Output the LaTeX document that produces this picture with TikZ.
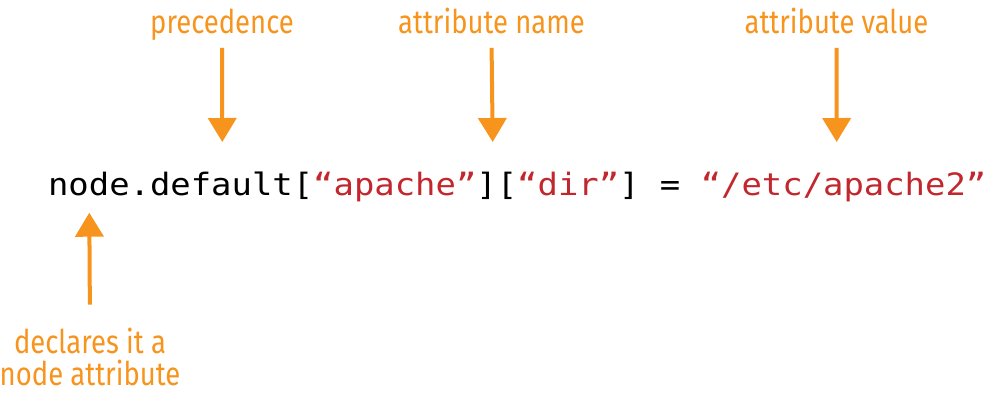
\documentclass[tikz,border=0pt]{standalone}
\usepackage{fontspec}
\usetikzlibrary{arrows.meta}
\newfontfamily\labelfont{Fira Sans}[FakeStretch=0.84]
\newfontfamily\codefont{DejaVu Sans Mono}[FakeStretch=1.1]
\definecolor{arrorange}{RGB}{247,148,30}
\definecolor{strred}{RGB}{193,39,45}
\begin{document}
\begin{tikzpicture}[x=0.75pt,y=-0.75pt,
  lblbase/.style={inner sep=0pt, text=arrorange, font=\labelfont\fontsize{24.5pt}{24pt}\selectfont, align=center},
  lbl/.style={lblbase, text height=17pt, text depth=5pt},
  code/.style={inner sep=0pt, anchor=base west, font=\codefont\fontsize{23.1pt}{26pt}\selectfont},
  arr/.style={draw=arrorange, line width=3pt, -{Triangle[length=18pt,width=21pt]}}]
\useasboundingbox (0,0) rectangle (985,405);
% code line
\node[code] (code) at (47.8,195) {node.default[\textcolor{strred}{“apache”}][\textcolor{strred}{“dir”}] = \textcolor{strred}{“/etc/apache2”}};
% labels
\node[lbl, anchor=base] (lprec) at (222,33) {precedence};
\node[lbl, anchor=base] (lname) at (491.5,33) {attribute name};
\node[lbl, anchor=base] (lval) at (836.5,33) {attribute value};
\node[lblbase, anchor=base] (ldecl) at (90,385) {declares it a\\node attribute};
% arrow tips
\coordinate (tprec) at (222.3,142);
\coordinate (tname) at (492.7,142);
\coordinate (tval) at (836.7,142);
\coordinate (tdecl) at (89.3,212.7);
% arrows
\draw[arr, shorten <=6pt] (lprec.south) -- (tprec);
\draw[arr, shorten <=6pt] (lname.south) -- (tname);
\draw[arr, shorten <=6pt] (lval.south) -- (tval);
\draw[arr, shorten <=17pt] (ldecl.north) -- (tdecl);
\end{tikzpicture}
\end{document}
